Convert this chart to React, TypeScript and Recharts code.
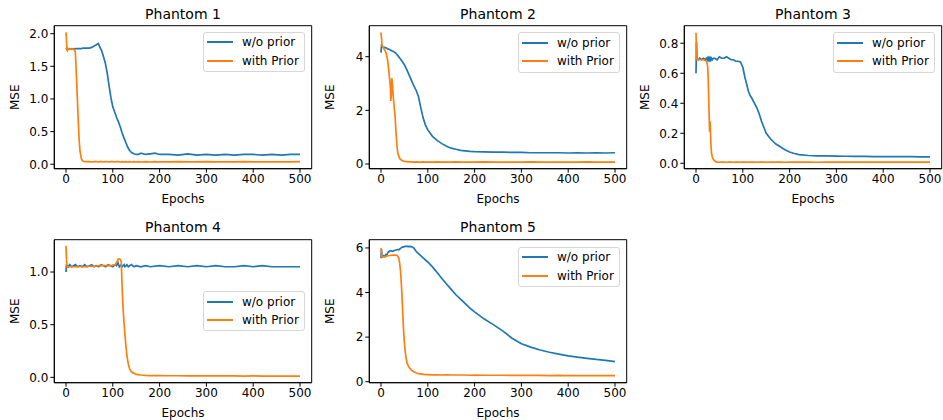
import React from 'react';
import { LineChart, Line, XAxis, YAxis, ReferenceArea, Legend } from 'recharts';

// epochs sampled more densely around the drops
const p1Epochs = [0, 1, 2, 3, 5, 8, 12, 16, 18, 20, 22, 24, 26, 28, 30, 33, 36, 40, 45, 50, 55, 60, 65, 69, 72, 76, 80, 84, 88, 92, 96, 100, 104, 108, 112, 116, 120, 124, 128, 132, 136, 140, 145, 150, 155, 160, 170, 180, 190, 200, 220, 240, 260, 280, 300, 320, 340, 360, 380, 400, 420, 440, 460, 480, 500];
const p1Plain = [1.78, 1.77, 1.76, 1.77, 1.76, 1.77, 1.76, 1.77, 1.76, 1.77, 1.77, 1.77, 1.77, 1.77, 1.77, 1.77, 1.78, 1.78, 1.78, 1.78, 1.79, 1.81, 1.83, 1.85, 1.80, 1.74, 1.65, 1.55, 1.40, 1.20, 1.02, 0.88, 0.80, 0.72, 0.65, 0.57, 0.48, 0.40, 0.33, 0.26, 0.21, 0.18, 0.16, 0.15, 0.15, 0.17, 0.15, 0.16, 0.17, 0.15, 0.15, 0.14, 0.16, 0.14, 0.15, 0.14, 0.15, 0.14, 0.15, 0.15, 0.14, 0.15, 0.14, 0.15, 0.15];
const p1Prior = [2.02, 1.90, 1.76, 1.74, 1.77, 1.76, 1.77, 1.76, 1.75, 1.72, 1.40, 1.05, 0.70, 0.38, 0.20, 0.08, 0.05, 0.04, 0.04, 0.04, 0.035, 0.04, 0.04, 0.035, 0.04, 0.04, 0.035, 0.04, 0.04, 0.035, 0.04, 0.04, 0.035, 0.04, 0.04, 0.035, 0.04, 0.035, 0.04, 0.035, 0.04, 0.035, 0.04, 0.035, 0.04, 0.035, 0.04, 0.035, 0.04, 0.035, 0.035, 0.04, 0.035, 0.035, 0.04, 0.035, 0.035, 0.035, 0.04, 0.035, 0.035, 0.035, 0.035, 0.035, 0.04];

const p2Epochs = [0, 1, 2, 3, 5, 8, 10, 12, 14, 16, 18, 20, 21, 22, 23, 24, 26, 28, 30, 32, 34, 36, 40, 45, 50, 55, 60, 65, 70, 75, 80, 85, 90, 95, 100, 110, 120, 130, 140, 150, 160, 170, 180, 190, 200, 220, 240, 260, 280, 300, 320, 340, 360, 380, 400, 420, 440, 460, 480, 500];
const p2Plain = [4.15, 4.40, 4.38, 4.37, 4.36, 4.35, 4.33, 4.32, 4.30, 4.28, 4.27, 4.25, 4.24, 4.23, 4.22, 4.21, 4.20, 4.18, 4.15, 4.12, 4.08, 4.04, 3.95, 3.83, 3.70, 3.52, 3.32, 3.12, 2.92, 2.75, 2.52, 2.10, 1.72, 1.45, 1.27, 1.03, 0.88, 0.76, 0.66, 0.59, 0.55, 0.51, 0.49, 0.47, 0.46, 0.45, 0.44, 0.44, 0.43, 0.43, 0.42, 0.42, 0.42, 0.42, 0.41, 0.42, 0.41, 0.42, 0.41, 0.42];
const p2Prior = [4.90, 4.70, 4.45, 4.38, 4.33, 4.25, 4.18, 4.05, 3.88, 3.60, 3.25, 2.90, 2.35, 2.60, 3.20, 3.05, 2.55, 2.15, 1.80, 1.20, 0.70, 0.40, 0.20, 0.13, 0.10, 0.09, 0.08, 0.08, 0.07, 0.08, 0.07, 0.07, 0.08, 0.07, 0.07, 0.07, 0.08, 0.07, 0.07, 0.07, 0.08, 0.07, 0.07, 0.07, 0.07, 0.08, 0.07, 0.07, 0.07, 0.07, 0.08, 0.07, 0.07, 0.07, 0.07, 0.07, 0.08, 0.07, 0.07, 0.07];

const p3Epochs = [0, 1, 2, 3, 5, 8, 12, 16, 20, 22, 24, 25, 26, 27, 28, 29, 30, 31, 32, 33, 35, 37, 40, 45, 50, 55, 60, 65, 70, 75, 80, 85, 90, 95, 100, 104, 108, 112, 116, 120, 125, 130, 135, 140, 145, 150, 160, 170, 180, 190, 200, 210, 220, 240, 260, 280, 300, 320, 340, 360, 380, 400, 420, 440, 460, 480, 500];
const p3Plain = [0.60, 0.81, 0.70, 0.69, 0.69, 0.70, 0.69, 0.70, 0.69, 0.70, 0.69, 0.70, 0.69, 0.70, 0.69, 0.70, 0.69, 0.70, 0.69, 0.70, 0.69, 0.70, 0.70, 0.69, 0.71, 0.70, 0.70, 0.71, 0.70, 0.69, 0.69, 0.68, 0.68, 0.675, 0.64, 0.58, 0.53, 0.48, 0.45, 0.43, 0.40, 0.37, 0.33, 0.28, 0.24, 0.20, 0.16, 0.13, 0.11, 0.09, 0.075, 0.065, 0.058, 0.052, 0.05, 0.049, 0.048, 0.047, 0.046, 0.046, 0.045, 0.045, 0.044, 0.045, 0.044, 0.043, 0.043];
const p3Prior = [0.87, 0.75, 0.69, 0.69, 0.69, 0.69, 0.69, 0.69, 0.685, 0.68, 0.665, 0.64, 0.58, 0.45, 0.33, 0.21, 0.28, 0.20, 0.12, 0.07, 0.04, 0.027, 0.015, 0.008, 0.007, 0.008, 0.008, 0.007, 0.008, 0.008, 0.007, 0.008, 0.008, 0.007, 0.008, 0.008, 0.008, 0.007, 0.008, 0.008, 0.008, 0.007, 0.008, 0.008, 0.008, 0.007, 0.008, 0.008, 0.008, 0.007, 0.008, 0.008, 0.008, 0.008, 0.007, 0.008, 0.008, 0.008, 0.008, 0.008, 0.008, 0.008, 0.008, 0.008, 0.008, 0.008, 0.008];

const p4Epochs = [0, 1, 2, 3, 5, 8, 12, 16, 20, 25, 30, 35, 40, 45, 50, 55, 60, 65, 70, 75, 80, 85, 90, 95, 100, 105, 108, 111, 114, 116, 118, 120, 122, 124, 126, 128, 130, 133, 136, 140, 145, 150, 160, 170, 180, 200, 220, 240, 260, 280, 300, 320, 340, 360, 380, 400, 420, 440, 460, 480, 500];
const p4Plain = [1.00, 1.07, 1.05, 1.06, 1.05, 1.07, 1.05, 1.06, 1.07, 1.05, 1.06, 1.05, 1.07, 1.05, 1.06, 1.07, 1.05, 1.06, 1.05, 1.07, 1.06, 1.05, 1.07, 1.06, 1.05, 1.07, 1.06, 1.09, 1.05, 1.06, 1.07, 1.05, 1.06, 1.07, 1.05, 1.06, 1.07, 1.05, 1.06, 1.07, 1.05, 1.06, 1.05, 1.06, 1.05, 1.06, 1.05, 1.06, 1.05, 1.06, 1.05, 1.06, 1.05, 1.05, 1.06, 1.05, 1.06, 1.05, 1.05, 1.05, 1.05];
const p4Prior = [1.25, 1.12, 1.05, 1.05, 1.05, 1.05, 1.05, 1.05, 1.05, 1.05, 1.05, 1.05, 1.05, 1.055, 1.055, 1.055, 1.055, 1.055, 1.06, 1.06, 1.06, 1.06, 1.06, 1.06, 1.065, 1.07, 1.09, 1.12, 1.125, 1.12, 1.10, 0.85, 0.65, 0.52, 0.40, 0.30, 0.21, 0.13, 0.08, 0.05, 0.04, 0.028, 0.022, 0.019, 0.017, 0.016, 0.015, 0.015, 0.014, 0.014, 0.013, 0.013, 0.013, 0.013, 0.012, 0.013, 0.012, 0.012, 0.012, 0.012, 0.012];

const p5Epochs = [0, 1, 2, 3, 5, 8, 10, 12, 15, 18, 20, 25, 30, 35, 38, 40, 42, 44, 46, 48, 50, 52, 54, 56, 58, 60, 65, 70, 75, 80, 90, 100, 110, 120, 130, 140, 150, 160, 170, 180, 190, 200, 220, 240, 260, 280, 300, 320, 340, 360, 380, 400, 420, 440, 460, 480, 500];
const p5Plain = [5.55, 5.95, 5.60, 5.62, 5.65, 5.62, 5.70, 5.68, 5.80, 5.85, 5.88, 5.85, 5.90, 5.93, 5.92, 5.95, 5.98, 6.02, 6.04, 6.05, 6.06, 6.07, 6.07, 6.07, 6.06, 6.07, 6.06, 6.00, 5.85, 5.75, 5.55, 5.37, 5.15, 4.90, 4.63, 4.38, 4.14, 3.90, 3.70, 3.50, 3.30, 3.13, 2.82, 2.56, 2.28, 1.95, 1.70, 1.55, 1.42, 1.32, 1.24, 1.16, 1.10, 1.05, 1.00, 0.96, 0.90];
const p5Prior = [6.00, 5.80, 5.60, 5.58, 5.60, 5.60, 5.62, 5.63, 5.65, 5.66, 5.67, 5.68, 5.68, 5.66, 5.55, 5.30, 4.90, 4.20, 3.30, 2.40, 1.75, 1.30, 1.00, 0.82, 0.72, 0.65, 0.52, 0.45, 0.40, 0.36, 0.33, 0.32, 0.31, 0.31, 0.30, 0.31, 0.30, 0.30, 0.30, 0.30, 0.29, 0.30, 0.29, 0.29, 0.29, 0.28, 0.28, 0.28, 0.28, 0.27, 0.28, 0.27, 0.27, 0.27, 0.27, 0.27, 0.27];

const xTicks = [0, 100, 200, 300, 400, 500];
const seriesNames = ['w/o prior', 'with Prior'];
const COLORS = ['#1f77b4', '#ff7f0e'];
const FONT = '"DejaVu Sans", sans-serif';
const black = '#000';

type PanelProps = {
    title: string;
    left: number;
    top: number;
    epochs: number[];
    plain: number[];
    prior: number[];
    yDomain: [number, number];
    yTicks: number[];
    digits: number;
    legendTop: number;
};

const LegendBox = () => (
    <div style={{
        width: 100, height: 38, border: '1px solid #d6d6d6', borderRadius: 3,
        background: 'rgba(255,255,255,0.8)', fontFamily: FONT, fontSize: 12, color: black, paddingTop: 0.5,
    }}>
        {seriesNames.map((n, i) => (
            <div key={n} style={{ display: 'flex', alignItems: 'center', height: 18.3 }}>
                <span style={{ display: 'inline-block', width: 26, height: 1.8, background: COLORS[i], marginLeft: 3, marginRight: 9 }} />
                <span style={{ whiteSpace: 'nowrap' }}>{n}</span>
            </div>
        ))}
    </div>
);

const Panel = ({ title, left, top, epochs, plain, prior, yDomain, yTicks, digits, legendTop }: PanelProps) => {
    const rows = epochs.map((e, i) => ({ epoch: e, plain: plain[i], prior: prior[i] }));
    return (
        <div style={{ position: 'absolute', left, top, width: 315, height: 210 }}>
            <div style={{
                position: 'absolute', left: 54.3, width: 257.4, top: 6.8, textAlign: 'center',
                fontFamily: FONT, fontSize: 14, lineHeight: '14px', color: black,
            }}>{title}</div>
            <LineChart width={315} height={210} data={rows} margin={{ top: 25.7, right: 3.3, bottom: 3.3, left: 0 }}>
                <XAxis
                    type="number" dataKey="epoch" domain={[-25, 525]} ticks={xTicks} allowDataOverflow
                    height={38} tickSize={4} tickMargin={2} stroke={black}
                    tick={{ fill: black, fontSize: 12, fontFamily: FONT }}
                    label={{ value: 'Epochs', position: 'insideBottom', offset: 3.4, fill: black, fontSize: 12, fontFamily: FONT }}
                />
                <YAxis
                    type="number" domain={yDomain} ticks={yTicks} allowDataOverflow
                    width={54.3} tickSize={4} tickMargin={2} stroke={black}
                    tickFormatter={(v: number) => v.toFixed(digits)}
                    tick={{ fill: black, fontSize: 12, fontFamily: FONT }}
                    label={{ value: 'MSE', angle: -90, position: 'insideLeft', offset: 14.7, fill: black, fontSize: 12, fontFamily: FONT, style: { textAnchor: 'middle' } }}
                />
                <ReferenceArea x1={-25} x2={525} y1={yDomain[0]} y2={yDomain[1]} fill="none" fillOpacity={0} stroke={black} strokeWidth={1} />
                <Line type="linear" dataKey="plain" name={seriesNames[0]} stroke={COLORS[0]} strokeWidth={1.7} dot={false} isAnimationActive={false} />
                <Line type="linear" dataKey="prior" name={seriesNames[1]} stroke={COLORS[1]} strokeWidth={1.7} dot={false} isAnimationActive={false} />
                <Legend
                    layout="vertical" align="center" verticalAlign="middle"
                    wrapperStyle={{ top: legendTop, left: 203, width: 102, height: 40 }}
                    content={() => <LegendBox />}
                />
            </LineChart>
        </div>
    );
};

export default function App() {
    return (
        <div style={{ position: 'absolute', left: 0, top: 0, width: 943, height: 420, overflow: 'hidden', background: '#fff' }}>
            <Panel title="Phantom 1" left={0} top={0} epochs={p1Epochs} plain={p1Plain} prior={p1Prior}
                yDomain={[-0.068, 2.122]} yTicks={[0, 0.5, 1, 1.5, 2]} digits={1} legendTop={31.7} />
            <Panel title="Phantom 2" left={315} top={0} epochs={p2Epochs} plain={p2Plain} prior={p2Prior}
                yDomain={[-0.175, 5.155]} yTicks={[0, 2, 4]} digits={0} legendTop={32} />
            <Panel title="Phantom 3" left={630} top={0} epochs={p3Epochs} plain={p3Plain} prior={p3Prior}
                yDomain={[-0.036, 0.917]} yTicks={[0, 0.2, 0.4, 0.6, 0.8]} digits={1} legendTop={32} />
            <Panel title="Phantom 4" left={0} top={213.6} epochs={p4Epochs} plain={p4Plain} prior={p4Prior}
                yDomain={[-0.051, 1.307]} yTicks={[0, 0.5, 1]} digits={1} legendTop={77.4} />
            <Panel title="Phantom 5" left={315} top={213.6} epochs={p5Epochs} plain={p5Plain} prior={p5Prior}
                yDomain={[-0.045, 6.37]} yTicks={[0, 2, 4, 6]} digits={0} legendTop={33.1} />
        </div>
    );
}
